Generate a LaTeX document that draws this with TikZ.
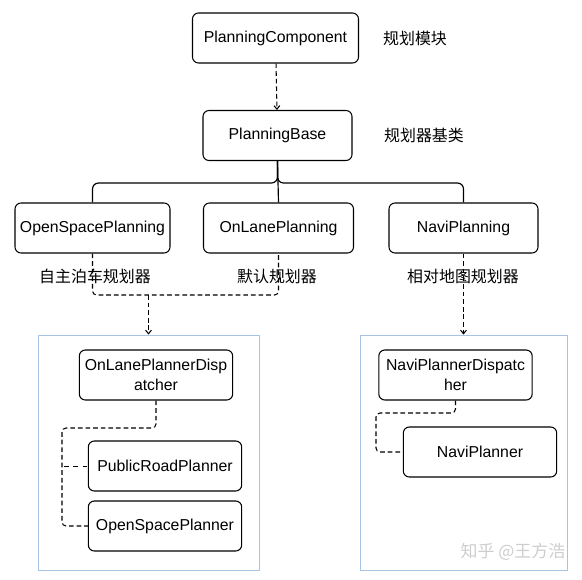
\documentclass[tikz,border=0pt]{standalone}
\usepackage{fontspec}
\setmainfont{Liberation Sans}
\newfontfamily\cjk{Noto Sans CJK SC}
\usepackage{tikz}
\usetikzlibrary{arrows.meta}
\usetikzlibrary{positioning}
\definecolor{groupblue}{RGB}{168,196,228}
\definecolor{markgray}{RGB}{205,205,205}
\tikzset{
  block/.style={draw,rounded corners=0.18cm,line width=0.9pt,minimum width=4.6cm,minimum height=1.5cm,
    inner sep=1pt,align=center,font=\fontsize{13.5}{17}\selectfont},
  note/.style={font=\cjk\fontsize{13.6}{16}\selectfont,inner sep=0pt},
  group/.style={draw=groupblue,line width=0.8pt,minimum width=6.63cm,minimum height=7.05cm},
  link/.style={line width=0.9pt,dash pattern=on 4pt off 2.5pt,rounded corners=0.12cm},
  tip/.style={-{Straight Barb[length=3pt,width=5pt]}}
}
\begin{document}
\begin{tikzpicture}[x=0.03cm,y=-0.03cm]
    \useasboundingbox (0,0) rectangle (582,579);
    % groups
    \node[group] (g1) at (148.5,452.5) {};
    \node[group,minimum width=6.21cm] (g2) at (463.5,452.5) {};
    \begin{scope}[every node/.style={block}]
    \node[minimum width=4.98cm] (pc) at (275.5,38) {PlanningComponent};
    \node[minimum width=4.47cm] (pb) at (277.5,135.5) {PlanningBase};
    \node[minimum width=4.65cm] (osp) at (92.5,228) {OpenSpacePlanning};
    \node[minimum width=4.5cm] (olp) at (278.5,228) {OnLanePlanning};
    \node[minimum width=4.47cm] (np) at (463.5,228) {NaviPlanning};
    \node (olpd) at (156,375) {OnLanePlannerDisp\\atcher};
    \node (prp) at (165,466) {PublicRoadPlanner};
    \node (ospr) at (165,526) {OpenSpacePlanner};
    \node (npd) at (455.5,375) {NaviPlannerDispatc\\her};
    \node (npl) at (480,452) {NaviPlanner};
    \end{scope}
    \begin{scope}[every node/.style={note}]
    \node (n1) at (415,38) {规划模块};
    \node (n2) at (424,135) {规划器基类};
    \node (n3) at (95,276) {自主泊车规划器};
    \node (n4) at (277,276) {默认规划器};
    \node (n5) at (463,276) {相对地图规划器};
    \end{scope}
    \coordinate (t) at (277.5,183);
    \coordinate (m1) at (148.5,295);
    \coordinate (c1) at (62,428);
    \coordinate (c2) at (64,466.5);
    \coordinate (c3) at (376,413);
    % connectors
    \draw[link,tip] (pc) -- (pb);
    \begin{scope}[line width=1pt,rounded corners=0.18cm]
    \draw (pb.south) -- (olp.north);
    \draw (pb.south) |- (t) -| (osp.north);
    \draw (pb.south) |- (t) -| (np.north);
    \end{scope}
    \draw[link] (osp.south) |- (m1) -| (olp.south);
    \draw[link,tip] (m1) -- (g1.north);
    \draw[link,tip] (np.south) -- (g2.north);
    \draw[link] (olpd.south) |- (c1) |- (ospr.west);
    \draw[link,dash pattern=on 4pt off 4pt] (c2) -- (c2 -| prp.west);
    \draw[link] (npd.south) |- (c3) |- (npl.west);
    % mark
    \node[font=\cjk\fontsize{14.5}{16}\selectfont,text=markgray] (wm) at (513,552) {知乎 @王方浩};
\end{tikzpicture}
\end{document}
